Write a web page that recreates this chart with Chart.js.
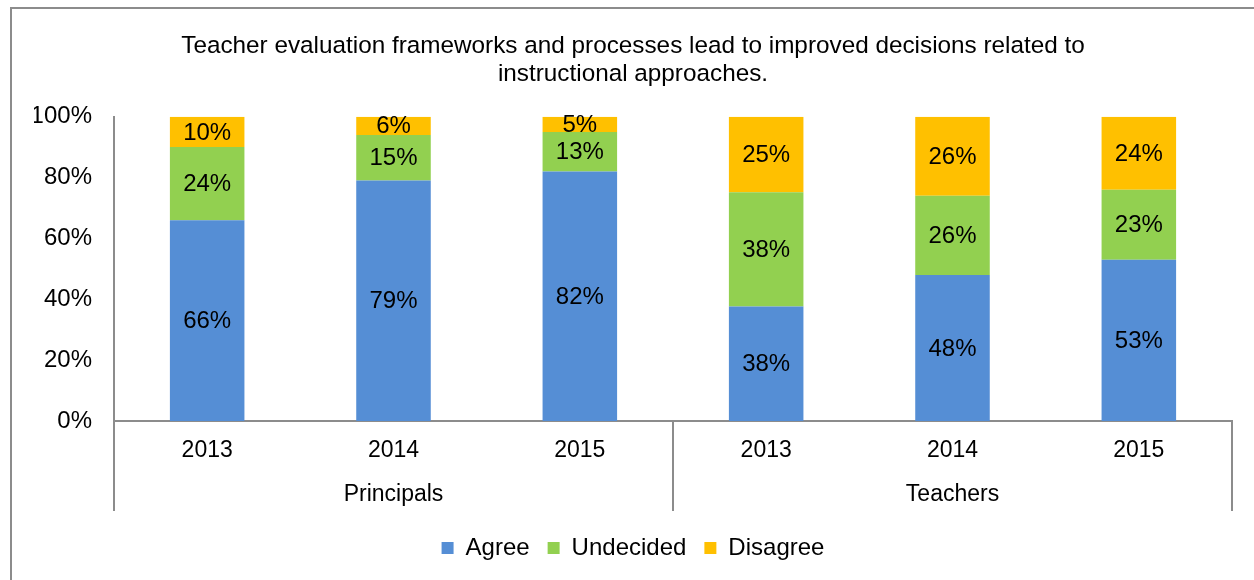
<!DOCTYPE html>
<html>
<head>
<meta charset="utf-8">
<script src="https://cdn.jsdelivr.net/npm/chart.js@4"></script>
<style>
  body { margin: 0; background: #fff; overflow: hidden; }
  #marco {
    position: absolute; left: 10px; top: 7px; width: 1300px; height: 600px;
    border-top: 2px solid #8c8c8c; border-left: 2px solid #8c8c8c;
  }
</style>
</head>
<body>
<div id="marco"></div>
<canvas id="grafico" width="1242" height="570" style="position:absolute;left:12px;top:10px;"></canvas>
<script>
// Datos
const anios = ["2013", "2014", "2015", "2013", "2014", "2015"];
const grupos = ["Principals", "Teachers"];
const deAcuerdo = [66, 79, 82, 37.6, 48, 53];
const indecisos = [24, 15, 13, 37.6, 26, 23];
const enDesacuerdo = [10, 6, 5, 24.8, 26, 24];

const fuente = "'Liberation Sans', Arial, sans-serif";
const colorEje = "#8c8c8c";

// Etiquetas de porcentaje dentro de cada segmento
const etiquetasBarras = {
    id: "etiquetasBarras",
    afterDatasetsDraw(chart) {
        const ctx = chart.ctx;
        ctx.save();
        ctx.font = "24px " + fuente;
        ctx.fillStyle = "#000";
        ctx.textAlign = "center";
        ctx.textBaseline = "middle";
        chart.data.datasets.forEach((ds, i) => {
            chart.getDatasetMeta(i).data.forEach((barra, j) => {
                const centro = barra.getCenterPoint();
                ctx.fillText(Math.round(ds.data[j]) + "%", centro.x, centro.y + 1);
            });
        });
        ctx.restore();
    }
};

// Segundo nivel del eje X: grupos y separadores
const ejeGrupos = {
    id: "ejeGrupos",
    afterDraw(chart) {
        const ctx = chart.ctx;
        const x = chart.scales.x;
        const base = chart.chartArea.bottom;
        const n = anios.length / grupos.length;
        ctx.save();
        ctx.strokeStyle = colorEje;
        ctx.lineWidth = 2;
        const cortes = [x.left];
        for (let g = 1; g < grupos.length; g++) {
            cortes.push((x.getPixelForValue(g * n - 1) + x.getPixelForValue(g * n)) / 2);
        }
        cortes.push(x.right);
        cortes.forEach(cx => {
            ctx.beginPath();
            ctx.moveTo(cx, base);
            ctx.lineTo(cx, base + 90);
            ctx.stroke();
        });
        ctx.font = "23px " + fuente;
        ctx.fillStyle = "#000";
        ctx.textAlign = "center";
        ctx.textBaseline = "middle";
        grupos.forEach((nombre, g) => {
            ctx.fillText(nombre, (cortes[g] + cortes[g + 1]) / 2, base + 74);
        });
        ctx.restore();
    }
};

const ctx = document.getElementById("grafico").getContext("2d");
new Chart(ctx, {
    type: "bar",
    data: {
        labels: anios,
        datasets: [
            { label: "Agree", data: deAcuerdo, backgroundColor: "#558ed5" },
            { label: "Undecided", data: indecisos, backgroundColor: "#92d050" },
            { label: "Disagree", data: enDesacuerdo, backgroundColor: "#ffc000" }
        ]
    },
    options: {
        responsive: false,
        animation: false,
        layout: { padding: { left: 22, right: 22, top: 0, bottom: 10 } },
        datasets: { bar: { barPercentage: 0.4, categoryPercentage: 1 } },
        scales: {
            x: {
                stacked: true,
                grid: { display: false, drawTicks: false },
                border: { color: colorEje, width: 2 },
                ticks: { font: { family: fuente, size: 23 }, color: "#000", padding: 16 },
                afterFit(scale) { scale.height = 97; }
            },
            y: {
                stacked: true,
                min: 0,
                max: 100,
                grid: { display: false, drawTicks: false },
                border: { color: colorEje, width: 2 },
                ticks: {
                    stepSize: 20,
                    font: { family: fuente, size: 24 },
                    color: "#000",
                    padding: 22,
                    callback: v => v + "%"
                },
                afterFit(scale) { scale.width = 80; }
            }
        },
        plugins: {
            title: {
                display: true,
                text: ["Teacher evaluation frameworks and processes lead to improved decisions related to",
                       "instructional approaches."],
                font: { family: fuente, size: 24.3, weight: "normal", lineHeight: 1.125 },
                color: "#000",
                padding: { top: 23, bottom: 29 }
            },
            legend: {
                position: "bottom",
                labels: {
                    boxWidth: 12,
                    boxHeight: 12,
                    font: { family: fuente, size: 24 },
                    color: "#000",
                    padding: 18
                }
            },
            tooltip: { enabled: false }
        }
    },
    plugins: [etiquetasBarras, ejeGrupos]
});
</script>
</body>
</html>
